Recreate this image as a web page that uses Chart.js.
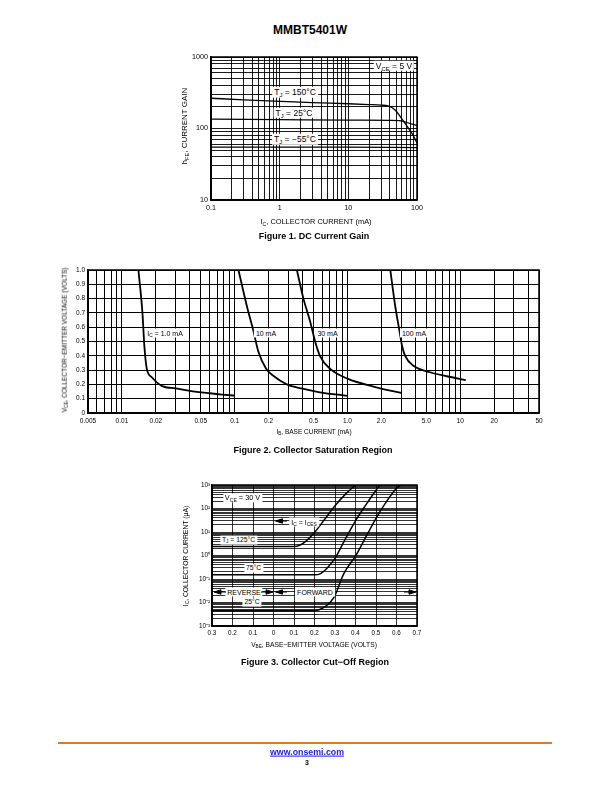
<!DOCTYPE html>
<html>
<head>
<meta charset="utf-8">
<script src="https://cdn.jsdelivr.net/npm/chart.js"></script>
<style>
body { margin: 0; background: #fff; font-family: 'Liberation Sans', Arial, sans-serif; color: #000; }
#page { position: relative; width: 612px; height: 792px; overflow: hidden; }
canvas { position: absolute; }
.t { position: absolute; white-space: nowrap; transform: translate(-50%, -50%); line-height: 1; }
.rot { transform: translate(-50%, -50%) rotate(-90deg); }
.lbl { background: #fff; padding: 1px 2px; }
.cap { font-weight: bold; font-size: 9px; }
sub { font-size: 70%; vertical-align: -0.3em; line-height: 0; }
#arrows { position: absolute; left: 0; top: 0; }
</style>
</head>
<body>
<div id="page">
  <div class="t" style="left:310px;top:30px;font-weight:bold;font-size:12px">MMBT5401W</div>

  <canvas id="chart-1" width="270" height="200" style="left:160px;top:47px"></canvas>
  <canvas id="chart-2" width="520" height="180" style="left:40px;top:262px"></canvas>
  <canvas id="chart-3" width="260" height="165" style="left:170px;top:477px"></canvas>

  <!-- Figure 1 -->
  <div class="t rot" style="left:185px;top:126px;font-size:8px">h<sub>FE</sub>, CURRENT GAIN</div>
  <div class="t" style="left:316px;top:222px;font-size:7.4px">I<sub>C</sub>, COLLECTOR CURRENT (mA)</div>
  <div class="t cap" style="left:314px;top:236px">Figure 1. DC Current Gain</div>
  <div class="t lbl" style="left:295px;top:92px;font-size:8.5px">T<sub>J</sub> = 150°C</div>
  <div class="t lbl" style="left:294px;top:112.5px;font-size:8.5px">T<sub>J</sub> = 25°C</div>
  <div class="t lbl" style="left:295px;top:139px;font-size:8.5px">T<sub>J</sub> = −55°C</div>
  <div class="t lbl" style="left:394px;top:65.5px;font-size:8.5px">V<sub>CE</sub> = 5 V</div>

  <!-- Figure 2 -->
  <div class="t rot" style="left:65px;top:340px;font-size:6.5px">V<sub>CE</sub>, COLLECTOR−EMITTER VOLTAGE (VOLTS)</div>
  <div class="t" style="left:314px;top:432px;font-size:6.5px">I<sub>B</sub>, BASE CURRENT (mA)</div>
  <div class="t cap" style="left:313px;top:450px">Figure 2. Collector Saturation Region</div>
  <div class="t lbl" style="left:165px;top:333px;font-size:7px">I<sub>C</sub> = 1.0 mA</div>
  <div class="t lbl" style="left:266px;top:333px;font-size:7px">10 mA</div>
  <div class="t lbl" style="left:327.5px;top:333px;font-size:7px">30 mA</div>
  <div class="t lbl" style="left:414px;top:333px;font-size:7px">100 mA</div>

  <!-- Figure 3 -->
  <div class="t rot" style="left:186px;top:556px;font-size:6.8px">I<sub>C</sub>, COLLECTOR CURRENT (μA)</div>
  <div class="t" style="left:314px;top:645px;font-size:6.7px">V<sub>BE</sub>, BASE−EMITTER VOLTAGE (VOLTS)</div>
  <div class="t cap" style="left:315px;top:662px">Figure 3. Collector Cut−Off Region</div>
  <div class="t lbl" style="left:242.5px;top:498px;font-size:7.3px">V<sub>CE</sub> = 30 V</div>
  <div class="t lbl" style="left:304px;top:521.5px;font-size:7px">I<sub>C</sub> = I<sub>CES</sub></div>
  <div class="t lbl" style="left:238.5px;top:540px;font-size:6.8px">T<sub>J</sub> = 125°C</div>
  <div class="t lbl" style="left:253.5px;top:568px;font-size:6.8px">75°C</div>
  <div class="t lbl" style="left:244px;top:592px;font-size:7px">REVERSE</div>
  <div class="t lbl" style="left:315px;top:592px;font-size:7px">FORWARD</div>
  <div class="t lbl" style="left:252px;top:602px;font-size:6.8px">25°C</div>

  <svg id="arrows" width="612" height="792">
    <g fill="#000" stroke="#000" stroke-width="1">
      <polygon points="214,592 221,589.8 221,594.2"/>
      <line x1="221" y1="592" x2="226" y2="592"/>
      <polygon points="273,592 266,589.8 266,594.2"/>
      <line x1="261" y1="592" x2="266" y2="592"/>
      <polygon points="275.5,592 282.5,589.8 282.5,594.2"/>
      <line x1="282" y1="592" x2="287" y2="592"/>
      <polygon points="416,592 409,589.8 409,594.2"/>
      <line x1="404" y1="592" x2="409" y2="592"/>
      <polygon points="275.5,521 282.5,518.8 282.5,523.2"/>
      <line x1="282" y1="521" x2="287" y2="521"/>
    </g>
  </svg>

  <div style="position:absolute;left:58px;top:742px;width:494px;height:2px;background:#dc7a26"></div>
  <div class="t" style="left:307px;top:752px;font-size:8.8px;font-weight:bold;color:#1a1aff;text-decoration:underline">www.onsemi.com</div>
  <div class="t" style="left:307px;top:762px;font-size:7px;font-weight:bold">3</div>
</div>

<script>
// Figure 1 - DC current gain (hFE vs IC, mA)
const icTicks = [0.1, 1, 10, 100];
const icTickText = ['0.1', '1', '10', '100'];
const hfeTicks = [10, 100, 1000];
const hfeTickText = ['10', '100', '1000'];

const ic150 = [0.1, 0.3, 1, 3, 10, 20, 30, 38, 48, 57, 72, 90, 100];
const hfe150 = [265, 252, 240, 230, 222, 216, 212, 207, 182, 147, 107, 77, 62];
const ic25 = [0.1, 1, 10, 40, 55, 65, 80, 100];
const hfe25 = [135, 133, 131, 130, 129, 125, 117, 110];
const icM55 = [0.1, 1, 10, 100];
const hfeM55 = [55, 55, 55, 54];

// Figure 2 - collector saturation (VCE vs IB, mA)
const ibTicks = [0.005, 0.01, 0.02, 0.05, 0.1, 0.2, 0.5, 1, 2, 5, 10, 20, 50];
const ibTickText = ['0.005', '0.01', '0.02', '0.05', '0.1', '0.2', '0.5', '1.0', '2.0', '5.0', '10', '20', '50'];
const vceTicks = [0, 0.1, 0.2, 0.3, 0.4, 0.5, 0.6, 0.7, 0.8, 0.9, 1.0];
const vceTickText = ['0', '0.1', '0.2', '0.3', '0.4', '0.5', '0.6', '0.7', '0.8', '0.9', '1.0'];

const ib1 = [0.014, 0.0152, 0.0158, 0.0166, 0.0184, 0.0225, 0.03, 0.04, 0.06, 0.077, 0.1];
const vce1 = [1.0, 0.7, 0.47, 0.31, 0.25, 0.19, 0.172, 0.155, 0.138, 0.129, 0.122];
const ib10 = [0.108, 0.128, 0.147, 0.162, 0.19, 0.22, 0.29, 0.4, 0.57, 1.0];
const vce10 = [1.0, 0.75, 0.57, 0.43, 0.31, 0.26, 0.2, 0.17, 0.145, 0.12];
const ib30 = [0.356, 0.407, 0.467, 0.517, 0.57, 0.7, 1.0, 1.8, 3.0];
const vce30 = [1.0, 0.8, 0.64, 0.5, 0.4, 0.31, 0.24, 0.18, 0.14];
const ib100 = [2.4, 2.65, 2.9, 3.05, 3.25, 3.85, 5.4, 7.6, 11.2];
const vce100 = [1.0, 0.75, 0.57, 0.47, 0.4, 0.33, 0.285, 0.257, 0.23];

// Figure 3 - collector cut-off (IC uA vs VBE, reverse < 0)
const vbeTicks = [-0.3, -0.2, -0.1, 0, 0.1, 0.2, 0.3, 0.4, 0.5, 0.6, 0.7];
const vbeTickText = ['0.3', '0.2', '0.1', '0', '0.1', '0.2', '0.3', '0.4', '0.5', '0.6', '0.7'];
const icuTicks = [0.001, 0.01, 0.1, 1, 10, 100, 1000];
const icuTickText = ['10⁻³', '10⁻²', '10⁻¹', '10⁰', '10¹', '10²', '10³'];

const vbe125 = [-0.3, 0.1, 0.13, 0.16, 0.2, 0.25, 0.3, 0.35, 0.4];
const icu125 = [2.4, 2.4, 2.8, 4.2, 9.5, 35, 130, 400, 1000];
const vbe75 = [-0.3, 0.2, 0.23, 0.26, 0.28, 0.3, 0.35, 0.4, 0.45, 0.5, 0.52];
const icu75 = [0.15, 0.15, 0.17, 0.28, 0.45, 0.75, 5, 30, 140, 600, 1000];
const vbe25 = [-0.3, 0.2, 0.25, 0.28, 0.3, 0.34, 0.36, 0.4, 0.45, 0.5, 0.55, 0.6, 0.62];
const icu25 = [0.0045, 0.0045, 0.0065, 0.011, 0.02, 0.15, 0.3, 0.95, 6, 38, 190, 720, 1000];

Chart.defaults.font.family = "'Liberation Sans', Arial, sans-serif";
Chart.defaults.color = '#000';

function pts(xs, ys) {
    return xs.map(function(x, i) { return {x: x, y: ys[i]}; });
}

function curve(xs, ys, width) {
    return {
        data: pts(xs, ys),
        showLine: true,
        borderColor: '#000',
        borderWidth: width,
        pointRadius: 0,
        fill: false,
        cubicInterpolationMode: 'monotone'
    };
}

// grid positions 1..9 of every decade between min and max
function logGrid(min, max) {
    const out = [];
    for (let e = Math.floor(Math.log10(min)); e <= Math.ceil(Math.log10(max)); e++) {
        for (let m = 1; m <= 9; m++) {
            const v = m * Math.pow(10, e);
            if (v >= min * 0.9999 && v <= max * 1.0001) out.push(v);
        }
    }
    return out;
}

function labelFor(value, vals, texts) {
    for (let i = 0; i < vals.length; i++) {
        if (Math.abs(value - vals[i]) <= Math.abs(vals[i]) * 1e-6 + 1e-9) return texts[i];
    }
    return '';
}

function axis(type, min, max, grid, vals, texts, size, pad, fit, lw) {
    return {
        type: type,
        min: min,
        max: max,
        afterBuildTicks: function(s) { s.ticks = grid.map(function(v) { return {value: v}; }); },
        afterFit: fit,
        grid: {color: '#000', lineWidth: lw, drawTicks: false},
        border: {color: '#000', width: 1.5},
        ticks: {
            autoSkip: false, maxRotation: 0, minRotation: 0,
            padding: pad, color: '#000', font: {size: size},
            callback: function(v) { return labelFor(v, vals, texts); }
        }
    };
}

const framePlugin = {
    id: 'frame',
    afterDraw: function(chart) {
        const a = chart.chartArea, c = chart.ctx;
        c.save();
        c.strokeStyle = '#000';
        c.lineWidth = 1.5;
        c.strokeRect(a.left, a.top, a.right - a.left, a.bottom - a.top);
        c.restore();
    }
};

function baseOptions(padRight, padTop, scales) {
    return {
        responsive: false,
        animation: false,
        layout: {padding: {left: 0, right: padRight, top: padTop, bottom: 0}},
        plugins: {legend: {display: false}, tooltip: {enabled: false}},
        scales: scales
    };
}

// Graphe - 1
new Chart(document.getElementById('chart-1'), {
    type: 'scatter',
    data: {datasets: [curve(ic150, hfe150, 1.3), curve(ic25, hfe25, 1.3), curve(icM55, hfeM55, 1.3)]},
    options: baseOptions(13, 10, {
        x: axis('logarithmic', 0.1, 100, logGrid(0.1, 100), icTicks, icTickText, 7.2, 4,
            function(s) { s.height = 47; }, 0.9),
        y: axis('logarithmic', 10, 1000, logGrid(10, 1000), hfeTicks, hfeTickText, 7.2, 3,
            function(s) { s.width = 51; }, 0.9)
    }),
    plugins: [framePlugin]
});

// Graphe - 2
new Chart(document.getElementById('chart-2'), {
    type: 'scatter',
    data: {datasets: [curve(ib1, vce1, 1.8), curve(ib10, vce10, 1.8), curve(ib30, vce30, 1.8), curve(ib100, vce100, 1.8)]},
    options: baseOptions(21, 8, {
        x: axis('logarithmic', 0.005, 50, logGrid(0.005, 50), ibTicks, ibTickText, 6.5, 4,
            function(s) { s.height = 29; }, 1),
        y: axis('linear', 0, 1, vceTicks, vceTicks, vceTickText, 6.5, 3,
            function(s) { s.width = 48; }, 1)
    }),
    plugins: [framePlugin]
});

// Graphe - 3
new Chart(document.getElementById('chart-3'), {
    type: 'scatter',
    data: {datasets: [curve(vbe125, icu125, 1.5), curve(vbe75, icu75, 1.5), curve(vbe25, icu25, 1.5)]},
    options: baseOptions(13, 8, {
        x: axis('linear', -0.3, 0.7, vbeTicks, vbeTicks, vbeTickText, 6.3, 3,
            function(s) { s.height = 16; }, 0.8),
        y: axis('logarithmic', 0.001, 1000, logGrid(0.001, 1000), icuTicks, icuTickText, 6.3, 2,
            function(s) { s.width = 42; }, 0.8)
    }),
    plugins: [framePlugin]
});
</script>
</body>
</html>
